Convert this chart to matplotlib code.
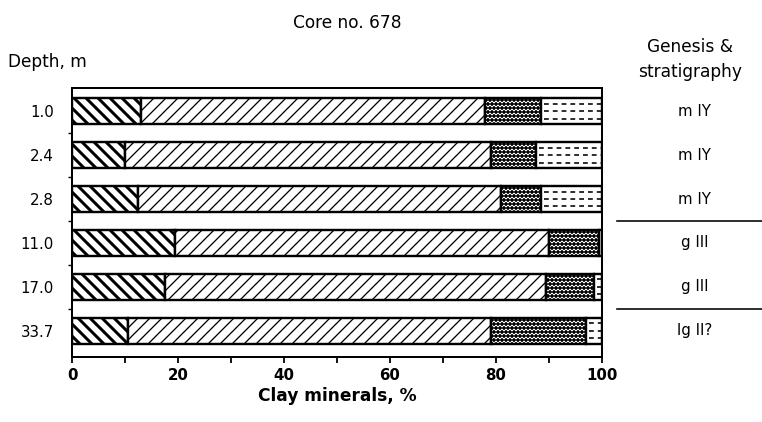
import matplotlib
matplotlib.use("Agg")
import matplotlib.pyplot as plt
from matplotlib.lines import Line2D
import numpy as np

# Sample depths (m) and genesis/stratigraphy of each sample
depths = ["1.0", "2.4", "2.8", "11.0", "17.0", "33.7"]
genesis = ["m IY", "m IY", "m IY", "g III", "g III", "lg II?"]

# Clay mineral composition, % (four components, left to right)
mineral_1 = [13.0, 10.0, 12.5, 19.5, 17.5, 10.5]
mineral_2 = [65.0, 69.0, 68.5, 70.5, 72.0, 68.5]
mineral_3 = [10.5, 8.5, 7.5, 9.5, 9.0, 18.0]
mineral_4 = [11.5, 12.5, 11.5, 0.5, 1.5, 3.0]

x_ticks = [0, 20, 40, 60, 80, 100]

DPI = 72
W, H = 762, 422
fig = plt.figure(figsize=(W / DPI, H / DPI), dpi=DPI)
ax = fig.add_axes([72 / W, 1 - 357 / H, (602 - 72) / W, (357 - 88) / H])

rows = np.arange(len(depths))
bar_h = 0.6
styles = [
    dict(hatch="\\\\", hlw=3.0),
    dict(hatch="//", hlw=1.3),
    dict(hatch="ooo", hlw=1.5),
    dict(hatch="", hlw=1.0),
]

left = np.zeros(len(depths))
segments = [mineral_1, mineral_2, mineral_3, mineral_4]
last_bars = None
for vals, st in zip(segments, styles):
    vals = np.asarray(vals)
    with plt.rc_context({"hatch.linewidth": st["hlw"]}):
        bars = ax.barh(rows, vals, left=left, height=bar_h, color="white",
                       edgecolor="black", linewidth=2.4, hatch=st["hatch"] or None,
                       zorder=2)
    for b in bars:
        if hasattr(b, "set_hatch_linewidth"):
            b.set_hatch_linewidth(st["hlw"])
    last_bars = bars
    left = left + vals

# dashed fill for the last component
starts = np.asarray(mineral_1) + np.asarray(mineral_2) + np.asarray(mineral_3)
for r, s, w, patch in zip(rows, starts, mineral_4, last_bars):
    for off in (-0.17, 0.0, 0.17):
        ln = ax.hlines(r + off, s + 0.6, s + w, colors="black", linewidth=1.6,
                       linestyles=(0, (3, 2.5)), zorder=3)
        ln.set_clip_path(patch)

ax.set_xlim(0, 100)
ax.set_ylim(5.6, -0.53)

ax.set_xticks(x_ticks)
ax.set_xticks(np.arange(10, 100, 20), minor=True)
ax.set_xticklabels([str(t) for t in x_ticks], fontsize=15, fontweight="bold")
ax.tick_params(axis="x", which="both", direction="out", length=6, width=1.8, pad=5)

ax.set_yticks(rows)
ax.set_yticklabels(depths, fontsize=15)
ax.set_yticks(rows[:-1] + 0.5, minor=True)
ax.tick_params(axis="y", which="major", length=0, pad=18)
ax.tick_params(axis="y", which="minor", direction="out", length=4, width=1.4)

for sp in ax.spines.values():
    sp.set_linewidth(2.0)

ax.set_xlabel("Clay minerals, %", fontsize=17, fontweight="bold", labelpad=4)

fig.text(347 / W, 1 - 23 / H, "Core no. 678", ha="center", va="center", fontsize=17)
fig.text(8 / W, 1 - 62 / H, "Depth, m", ha="left", va="center", fontsize=17)
fig.text(690 / W, 1 - 47 / H, "Genesis &", ha="center", va="center", fontsize=17)
fig.text(690 / W, 1 - 72 / H, "stratigraphy", ha="center", va="center", fontsize=17)

# genesis labels aligned with the rows
for r, g in zip(rows, genesis):
    ax.text(1.175, r, g, transform=ax.get_yaxis_transform(), ha="center",
            va="center", fontsize=15, clip_on=False)

# boundaries between stratigraphic units
for r in (2.5, 4.5):
    y = ax.transData.transform((0, r))[1]
    yf = fig.transFigure.inverted().transform((0, y))[1]
    fig.add_artist(Line2D([617 / W, 1.0], [yf, yf], transform=fig.transFigure,
                          color="black", linewidth=1.6))

fig.savefig("out.png", dpi=DPI)
